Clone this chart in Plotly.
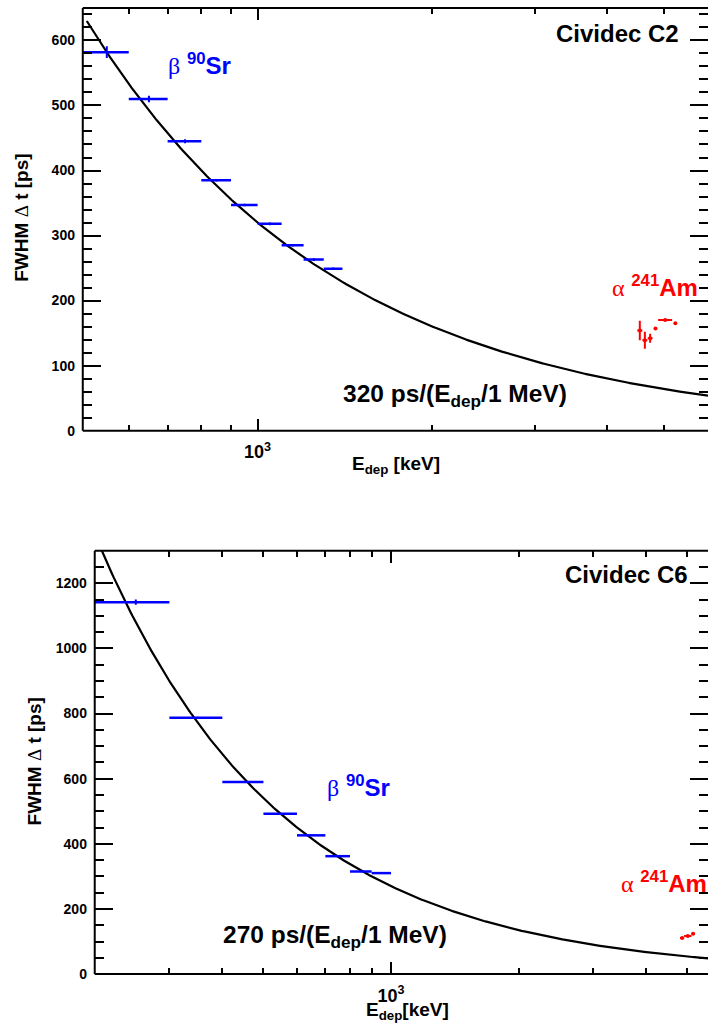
import numpy as np
import plotly.graph_objects as go

W, H = 710, 1030

# ---------------- data ----------------
# Top panel: Cividec C2
c2_beta_E = [550, 650, 750, 850, 950, 1050, 1150, 1250, 1350]          # keV
c2_beta_Eerr = [50, 50, 50, 50, 50, 50, 50, 50, 50]
c2_beta_fwhm = [582, 510, 445, 385, 347, 318, 285, 263, 249]            # ps
c2_beta_err = [9, 5, 3, 2, 2, 2, 2, 2, 2]

c2_alpha_E = [4551, 4643, 4741, 4842, 5033, 5239]
c2_alpha_Eerr = [45, 45, 45, 0, 140, 0]
c2_alpha_fwhm = [154, 139, 142, 157, 170, 165]
c2_alpha_err = [15, 13, 7, 2, 1, 1]

c2_fit_coef = 320     # ps at 1 MeV
c2_fit_range = [508, 6000]

# Bottom panel: Cividec C6
c6_beta_E = [250, 350, 450, 550, 650, 750, 850, 950]
c6_beta_Eerr = [50, 50, 50, 50, 50, 50, 50, 50]
c6_beta_fwhm = [1142, 787, 590, 492, 426, 362, 315, 310]
c6_beta_err = [8, 3, 3, 2, 2, 2, 2, 2]

c6_alpha_E = [4861, 5012, 5159]
c6_alpha_Eerr = [55, 100, 47]
c6_alpha_fwhm = [111, 117, 124]
c6_alpha_err = [1, 1, 1]

c6_fit_coef = 270
c6_fit_range = [200, 6000]

# ---------------- helpers ----------------
def px(x):
    return x / W

def py(y):
    return 1 - y / H

FONT = "Liberation Sans"
BLUE = "#0000ff"
RED = "#ff0000"

fig = go.Figure()

def fit_curve(coef, rng):
    e = np.logspace(np.log10(rng[0]), np.log10(rng[1]), 400)
    return e, coef / (e / 1000.0)

def add_panel(xa, ya, bE, bEe, bF, bFe, aE, aEe, aF, aFe, coef, rng):
    e, f = fit_curve(coef, rng)
    fig.add_trace(go.Scatter(x=e, y=f, mode="lines", line=dict(color="black", width=2.2),
                             xaxis=xa, yaxis=ya, showlegend=False, hoverinfo="skip"))
    fig.add_trace(go.Scatter(x=bE, y=bF, mode="markers",
                             marker=dict(size=1, color=BLUE),
                             error_x=dict(type="data", array=bEe, color=BLUE, thickness=2.5, width=0),
                             error_y=dict(type="data", array=bFe, color=BLUE, thickness=2, width=0),
                             xaxis=xa, yaxis=ya, showlegend=False))
    fig.add_trace(go.Scatter(x=aE, y=aF, mode="markers",
                             marker=dict(size=4, color=RED),
                             error_x=dict(type="data", array=aEe, color=RED, thickness=2, width=0),
                             error_y=dict(type="data", array=aFe, color=RED, thickness=2, width=0),
                             xaxis=xa, yaxis=ya, showlegend=False))

add_panel("x", "y", c2_beta_E, c2_beta_Eerr, c2_beta_fwhm, c2_beta_err,
          c2_alpha_E, c2_alpha_Eerr, c2_alpha_fwhm, c2_alpha_err, c2_fit_coef, c2_fit_range)
add_panel("x2", "y2", c6_beta_E, c6_beta_Eerr, c6_beta_fwhm, c6_beta_err,
          c6_alpha_E, c6_alpha_Eerr, c6_alpha_fwhm, c6_alpha_err, c6_fit_coef, c6_fit_range)

minor_x = [200, 300, 400, 500, 600, 700, 800, 900, 2000, 3000, 4000, 5000]

def xaxis_cfg(domain, rng, anchor):
    return dict(type="log", domain=domain, range=rng, anchor=anchor,
                tickmode="array", tickvals=[1000], ticktext=["10<sup>3</sup>"],
                ticks="inside", ticklen=12, tickwidth=2, tickcolor="black",
                minor=dict(tickmode="array", tickvals=minor_x, ticks="inside", ticklen=6,
                           tickwidth=2, tickcolor="black", showgrid=False),
                mirror="allticks", showline=True, linecolor="rgba(0,0,0,0)", linewidth=2,
                showgrid=False, zeroline=False,
                tickfont=dict(family=FONT, size=18, color="black", weight="bold"),
                ticklabelstandoff=4)

def yaxis_cfg(domain, rng, anchor, dtick, mdtick):
    return dict(domain=domain, range=rng, anchor=anchor, dtick=dtick, tick0=0,
                ticks="inside", ticklen=18, tickwidth=2, tickcolor="black",
                minor=dict(dtick=mdtick, tick0=0, ticks="inside", ticklen=9, tickwidth=2,
                           tickcolor="black", showgrid=False),
                mirror="allticks", showline=True, linecolor="rgba(0,0,0,0)", linewidth=2,
                showgrid=False, zeroline=False,
                tickfont=dict(family=FONT, size=14, color="black", weight="bold"),
                ticklabelstandoff=3)

fig.update_layout(
    width=W, height=H, margin=dict(l=0, r=0, t=0, b=0),
    paper_bgcolor="white", plot_bgcolor="white",
    font=dict(family=FONT, color="black"),
    xaxis=xaxis_cfg([px(83), 1.0], [np.log10(500), 3.7755], "y"),
    yaxis=yaxis_cfg([py(434), py(8)], [0, 650], "x", 100, 20),
    xaxis2=xaxis_cfg([px(95), 1.0], [np.log10(200), 3.7477], "y2"),
    yaxis2=yaxis_cfg([py(981.7), py(555)], [0, 1300], "x2", 200, 50),
)

# frame lines (left, bottom, top); right edge lies at the window border
shapes = []
for xr, yr in (("x", "y"), ("x2", "y2")):
    for (x0, y0, x1, y1) in ((0, 0, 0, 1), (0, 0, 1, 0), (0, 1, 1, 1)):
        shapes.append(dict(type="line", xref=f"{xr} domain", yref=f"{yr} domain",
                           x0=x0, y0=y0, x1=x1, y1=y1, line=dict(color="black", width=2)))
fig.update_layout(shapes=shapes)

SERIF = "span style='font-family:Liberation Serif;font-weight:normal'"

def ann(text, x, y, xanchor, size, color="black", angle=0, yanchor="middle"):
    fig.add_annotation(text=text, x=px(x), y=py(y), xref="paper", yref="paper",
                       xanchor=xanchor, yanchor=yanchor, showarrow=False, textangle=angle,
                       font=dict(family=FONT, size=size, color=color, weight="bold"))

beta_txt = f"<{SERIF}>β</span> <sup>90</sup>Sr"
alpha_txt = f"<{SERIF}>α</span> <sup>241</sup>Am"
ytitle = f"FWHM <{SERIF}>Δ</span> t [ps]"

# top panel texts
ann("Cividec C2", 683, 33.7, "right", 24)
ann(beta_txt, 166, 65, "left", 24, BLUE)
ann(alpha_txt, 612, 288, "left", 24, RED)
ann("320 ps/(E<sub>dep</sub>/1 MeV)", 342, 399, "left", 24.5)
ann("E<sub>dep</sub> [keV]", 396.7, 469, "center", 19)
ann(ytitle, 22, 219.5, "center", 19, angle=-90)

# bottom panel texts
ann("Cividec C6", 691.7, 579.5, "right", 24)
ann(beta_txt, 326, 792, "left", 24, BLUE)
ann(alpha_txt, 621, 889, "left", 24, RED)
ann("270 ps/(E<sub>dep</sub>/1 MeV)", 222, 944, "left", 24.5)
ann("E<sub>dep</sub>[keV]", 408.5, 1019, "center", 19)
ann(ytitle, 35, 767.5, "center", 19, angle=-90)

fig.write_html("out.html")
